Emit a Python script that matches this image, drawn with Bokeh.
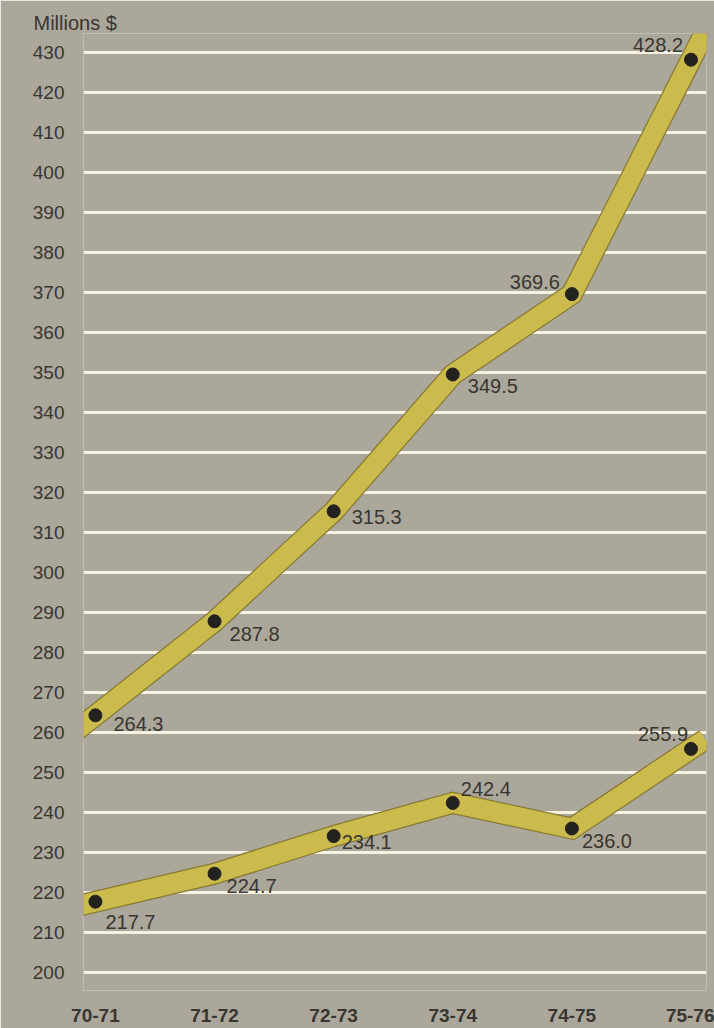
from bokeh.plotting import figure
from bokeh.models import FixedTicker, Range1d, ColumnDataSource
from bokeh.core.properties import value
from bokeh.embed import file_html
from bokeh.resources import INLINE

# ---- data ----
years = ["70-71", "71-72", "72-73", "73-74", "74-75", "75-76"]
upper = [264.3, 287.8, 315.3, 349.5, 369.6, 428.2]
lower = [217.7, 224.7, 234.1, 242.4, 236.0, 255.9]
y_ticks = list(range(200, 431, 10))

# label placement (styling): offsets in px (positive = down) and alignment
upper_dx = [18, 15, 18, 15, -12, -8]
upper_dy = [9, 13, 6, 11, -12, -15]
upper_align = ["left", "left", "left", "left", "right", "right"]
lower_dx = [10, 12, 8, 8, 10, -3]
lower_dy = [20, 12, 6, -14, 12, -15]
lower_align = ["left", "left", "left", "left", "left", "right"]

BG = "#aca79b"
GRID = "#f6f2e2"
BAND = "#cbbb4c"
BAND_EDGE = "#877b34"
TXT = "#383631"
DOT = "#23221e"
FONT = "Liberation Sans"

xs = list(range(len(years)))

p = figure(width=714, height=1028, output_backend="svg", toolbar_location=None,
           x_range=Range1d(-0.10, 5.13), y_range=Range1d(195.5, 434.75),
           min_border_left=83, min_border_right=8, min_border_top=33,
           min_border_bottom=38)
p.background_fill_color = BG
p.border_fill_color = BG
p.outline_line_color = None

p.title.text = "Millions $"
p.title.align = "left"
p.title.offset = -50
p.title.standoff = 0
p.title.text_font = FONT
p.title.text_font_style = "normal"
p.title.text_font_size = "20px"
p.title.text_color = TXT
p.title.vertical_align = "bottom"

# axes
p.yaxis.ticker = FixedTicker(ticks=y_ticks)
p.yaxis.axis_line_color = None
p.yaxis.major_tick_line_color = None
p.yaxis.minor_tick_line_color = None
p.yaxis.major_label_standoff = 13
p.yaxis.major_label_text_font = FONT
p.yaxis.major_label_text_font_size = "19px"
p.yaxis.major_label_text_color = TXT

p.xaxis.ticker = FixedTicker(ticks=xs)
p.xaxis.major_label_overrides = {i: y for i, y in enumerate(years)}
p.xaxis.axis_line_color = None
p.xaxis.major_tick_line_color = None
p.xaxis.minor_tick_line_color = None
p.xaxis.major_label_standoff = 12
p.xaxis.major_label_text_font = FONT
p.xaxis.major_label_text_font_style = "bold"
p.xaxis.major_label_text_font_size = "19px"
p.xaxis.major_label_text_color = TXT

p.xgrid.grid_line_color = None
p.ygrid.ticker = FixedTicker(ticks=y_ticks)
p.ygrid.grid_line_color = GRID
p.ygrid.grid_line_width = 3


def extended(xv, yv, e0=0.3, e1=0.12):
    xe = [xv[0] - e0 * (xv[1] - xv[0])] + list(xv) + [xv[-1] + e1 * (xv[-1] - xv[-2])]
    ye = [yv[0] - e0 * (yv[1] - yv[0])] + list(yv) + [yv[-1] + e1 * (yv[-1] - yv[-2])]
    return xe, ye


for series, dx, dy, al in [(upper, upper_dx, upper_dy, upper_align),
                           (lower, lower_dx, lower_dy, lower_align)]:
    xe, ye = extended(xs, series)
    p.line(xe, ye, line_width=22, line_color=BAND_EDGE, line_join="miter", line_cap="butt")
    p.line(xe, ye, line_width=19.5, line_color=BAND, line_join="miter", line_cap="butt")
    p.scatter(xs, series, size=13, color=DOT)
    src = ColumnDataSource(dict(x=xs, y=series, t=[f"{v:.1f}" for v in series],
                                dx=dx, dy=dy, al=al))
    p.text(x="x", y="y", text="t", x_offset="dx", y_offset="dy", text_align="al",
           text_baseline="middle", source=src, text_font=value(FONT),
           text_font_size="20px", text_color=TXT)

open("out.html", "w").write(file_html(p, INLINE))
